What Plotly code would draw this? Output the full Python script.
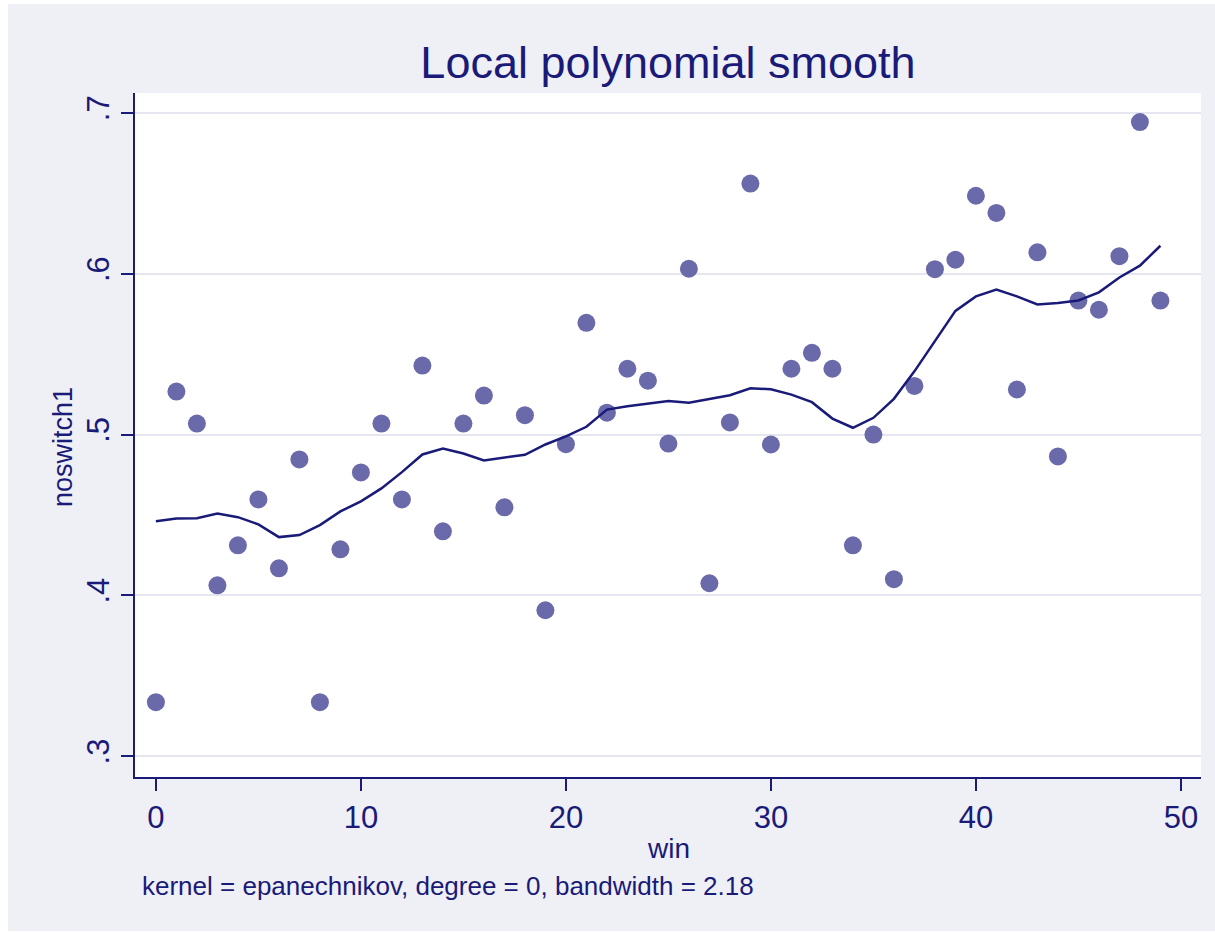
import plotly.graph_objects as go

# ---- data ----
win = list(range(50))
noswitch1 = [0.3335, 0.5267, 0.5068, 0.4062, 0.4311, 0.4596, 0.4168, 0.4845, 0.3335, 0.4286,
             0.4764, 0.5068, 0.4596, 0.5429, 0.4398, 0.5068, 0.5242, 0.4547, 0.5120, 0.3907,
             0.4940, 0.5695, 0.5136, 0.5409, 0.5335, 0.4944, 0.6031, 0.4075, 0.5075, 0.6561,
             0.4938, 0.5409, 0.5508, 0.5409, 0.4311, 0.5000, 0.4100, 0.5302, 0.6028, 0.6087,
             0.6485, 0.6378, 0.5280, 0.6133, 0.4864, 0.5833, 0.5776, 0.6109, 0.6943, 0.5833]
smooth = [0.4461, 0.4478, 0.4480, 0.4509, 0.4486, 0.4441, 0.4362, 0.4375, 0.4437, 0.4522,
          0.4584, 0.4665, 0.4766, 0.4876, 0.4913, 0.4882, 0.4839, 0.4857, 0.4874, 0.4938,
          0.4989, 0.5048, 0.5155, 0.5176, 0.5191, 0.5209, 0.5197, 0.5219, 0.5244, 0.5288,
          0.5281, 0.5248, 0.5201, 0.5099, 0.5042, 0.5104, 0.5222, 0.5393, 0.5578, 0.5769,
          0.5859, 0.5901, 0.5859, 0.5809, 0.5818, 0.5834, 0.5884, 0.5977, 0.6050, 0.6174]
x_tickvals = [0, 10, 20, 30, 40, 50]
y_tickvals = [0.3, 0.4, 0.5, 0.6, 0.7]
y_ticktext = [".3", ".4", ".5", ".6", ".7"]

title_text = "Local polynomial smooth"
x_title = "win"
y_title = "noswitch1"
note_text = "kernel = epanechnikov, degree = 0, bandwidth = 2.18"

# ---- style ----
NAVY = "#1a1a78"
MARK = "#6a6aaa"
BG = "#efeff6"
GRID = "#e6e6f0"
FONT = "Liberation Sans, Arial, sans-serif"

# page offset: figure placed at (8, 4) in the window
OX, OY = 8, 4
W, H = 1207, 927
L, R, T, B = 127, 14, 89, 154
pw, ph = W - L - R, H - T - B


def px_x(x):  # window pixel -> paper x
    return (x - OX - L) / pw


def px_y(y):  # window pixel -> paper y
    return (H - B - (y - OY)) / ph


fig = go.Figure()
fig.add_trace(go.Scatter(x=win, y=noswitch1, mode="markers",
                         marker=dict(color=MARK, size=18, line=dict(width=0)),
                         showlegend=False))
fig.add_trace(go.Scatter(x=win, y=smooth, mode="lines",
                         line=dict(color=NAVY, width=2.5),
                         showlegend=False))

fig.update_layout(
    width=W, height=H,
    margin=dict(l=L, r=R, t=T, b=B, pad=0),
    paper_bgcolor=BG, plot_bgcolor="white",
    font=dict(family=FONT, color=NAVY),
    title=dict(text=title_text, x=0.5, xref="paper", y=1 - (62 - OY) / H, yref="container",
               xanchor="center", yanchor="middle",
               font=dict(size=45, color=NAVY, family=FONT)),
    xaxis=dict(range=[-1.02, 50.98], tickvals=x_tickvals, showgrid=False, zeroline=False,
               showline=True, linecolor=NAVY, linewidth=2, mirror=False,
               ticks="outside", ticklen=12, tickwidth=2, tickcolor=NAVY,
               tickfont=dict(size=31, color=NAVY, family=FONT),
               title=dict(text="")),
    yaxis=dict(range=[0.2870, 0.7124], tickvals=y_tickvals, ticktext=y_ticktext,
               showgrid=True, gridcolor=GRID, gridwidth=2, zeroline=False,
               showline=True, linecolor=NAVY, linewidth=2, mirror=False,
               ticks="outside", ticklen=12, tickwidth=2, tickcolor=NAVY, tickangle=-90,
               tickfont=dict(size=31, color=NAVY, family=FONT),
               title=dict(text="")),
    annotations=[
        dict(text=x_title, xref="paper", yref="paper", x=0.5, y=px_y(848),
             xanchor="center", yanchor="middle", showarrow=False,
             font=dict(size=28, color=NAVY, family=FONT)),
        dict(text=y_title, xref="paper", yref="paper", x=px_x(63), y=px_y(447),
             xanchor="center", yanchor="middle", showarrow=False, textangle=-90,
             font=dict(size=27, color=NAVY, family=FONT)),
        dict(text=note_text, xref="paper", yref="paper", x=px_x(140), y=px_y(886),
             xanchor="left", yanchor="middle", showarrow=False,
             font=dict(size=26, color=NAVY, family=FONT)),
    ],
)

fig.write_html("out.html",
               post_script="document.body.style.margin='%dpx 0 0 %dpx';" % (OY, OX))
